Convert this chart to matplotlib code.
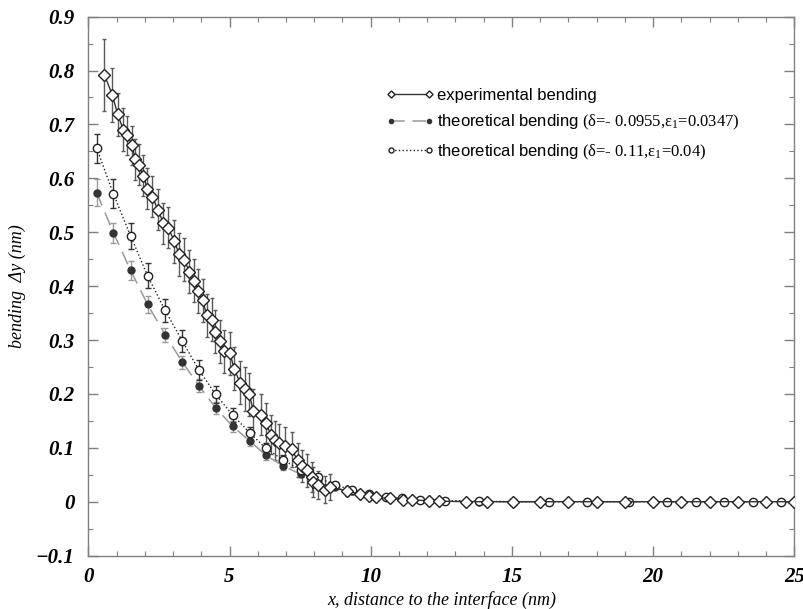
import matplotlib
matplotlib.use("Agg")
import matplotlib.pyplot as plt
from matplotlib.ticker import MultipleLocator

# experimental bending (diamonds)
exp_x = [0.57, 0.85, 1.04, 1.24, 1.38, 1.56, 1.65, 1.78, 1.95, 2.09, 2.27, 2.46,
         2.66, 2.83, 3.05, 3.22, 3.39, 3.58, 3.74, 3.90, 4.05, 4.19, 4.37, 4.49,
         4.66, 4.82, 5.02, 5.16, 5.37, 5.55, 5.70, 5.84, 6.10, 6.28, 6.47, 6.61,
         6.76, 6.97, 7.20, 7.41, 7.56, 7.73, 7.91, 7.97, 8.14, 8.38, 8.56,
         9.15, 9.62, 9.95, 10.20, 10.68, 11.13, 11.45, 12.05, 12.43, 13.37,
         14.13, 15.05, 16.0, 17.0, 18.0, 19.0, 20.0, 21.0, 22.0, 23.0, 24.0, 25.0]
exp_y = [0.792, 0.755, 0.719, 0.690, 0.680, 0.661, 0.635, 0.625, 0.605, 0.581,
         0.566, 0.542, 0.517, 0.508, 0.483, 0.459, 0.449, 0.427, 0.410, 0.391,
         0.374, 0.346, 0.338, 0.315, 0.298, 0.279, 0.275, 0.247, 0.221, 0.209,
         0.199, 0.169, 0.161, 0.146, 0.124, 0.114, 0.109, 0.104, 0.097, 0.077,
         0.066, 0.058, 0.046, 0.036, 0.031, 0.022, 0.027,
         0.020, 0.014, 0.010, 0.008, 0.006, 0.004, 0.003, 0.002, 0.001, 0.0,
         0.0, 0.0, 0.0, 0.0, 0.0, 0.0, 0.0, 0.0, 0.0, 0.0, 0.0, 0.0]
exp_err = [0.067, 0.050, 0.040, 0.040, 0.036, 0.036, 0.038, 0.038, 0.038, 0.038,
           0.038, 0.038, 0.038, 0.038, 0.040, 0.040, 0.040, 0.040, 0.040, 0.040,
           0.040, 0.040, 0.040, 0.040, 0.040, 0.040, 0.040, 0.040, 0.040, 0.040,
           0.040, 0.040, 0.038, 0.038, 0.036, 0.036, 0.035, 0.034, 0.033, 0.032,
           0.030, 0.030, 0.028, 0.028, 0.026, 0.025, 0.024,
           0.010, 0.006, 0.004, 0.0, 0.0, 0.0, 0.0, 0.0, 0.0, 0.0,
           0.0, 0.0, 0.0, 0.0, 0.0, 0.0, 0.0, 0.0, 0.0, 0.0, 0.0, 0.0]

# theoretical bending, both parameter sets share positions
th_x = [0.30, 0.89, 1.50, 2.10, 2.72, 3.33, 3.92, 4.51, 5.11, 5.73, 6.29, 6.91,
        7.52, 8.12, 8.74, 9.33, 9.95, 10.54, 11.10, 11.75, 12.63, 13.85, 15.05,
        16.30, 17.65, 19.16, 20.50, 21.52, 22.52, 23.53, 24.53]
th1_y = [0.573, 0.499, 0.429, 0.366, 0.310, 0.259, 0.215, 0.174, 0.140, 0.112,
         0.086, 0.066, 0.051, 0.038, 0.027, 0.019, 0.013, 0.008, 0.005, 0.003,
         0.001, 0.0, 0.0, 0.0, 0.0, 0.0, 0.0, 0.0, 0.0, 0.0, 0.0]
th1_err = [0.025, 0.019, 0.017, 0.015, 0.013, 0.012, 0.012, 0.011, 0.010, 0.009,
           0.008, 0.007, 0.006, 0.005, 0.004, 0.0, 0.0, 0.0, 0.0, 0.0,
           0.0, 0.0, 0.0, 0.0, 0.0, 0.0, 0.0, 0.0, 0.0, 0.0, 0.0]
th2_y = [0.656, 0.571, 0.493, 0.419, 0.355, 0.298, 0.244, 0.199, 0.161, 0.127,
         0.099, 0.077, 0.059, 0.045, 0.031, 0.022, 0.014, 0.009, 0.006, 0.004,
         0.002, 0.001, 0.0, 0.0, 0.0, 0.0, 0.0, 0.0, 0.0, 0.0, 0.0]
th2_err = [0.027, 0.027, 0.025, 0.023, 0.021, 0.020, 0.018, 0.016, 0.013, 0.012,
           0.010, 0.009, 0.008, 0.007, 0.005, 0.0, 0.0, 0.0, 0.0, 0.0,
           0.0, 0.0, 0.0, 0.0, 0.0, 0.0, 0.0, 0.0, 0.0, 0.0, 0.0]

xt = [0, 5, 10, 15, 20, 25]
yt = [-0.1, 0.0, 0.1, 0.2, 0.3, 0.4, 0.5, 0.6, 0.7, 0.8, 0.9]

plt.rcParams["mathtext.fontset"] = "custom"
plt.rcParams["mathtext.rm"] = "Liberation Serif"
plt.rcParams["mathtext.it"] = "Liberation Serif:italic"

SERIF = "Liberation Serif"
AXC = "#808080"

fig = plt.figure(figsize=(8.04, 6.09), dpi=100)
ax = fig.add_axes([0.1098, 0.0877, 0.8783, 0.885])

ax.errorbar(exp_x, exp_y, yerr=exp_err, fmt="none", ecolor="#5a5a5a",
            elinewidth=1.0, capsize=1.5, zorder=2)
ax.errorbar(th_x, th1_y, yerr=th1_err, fmt="none", ecolor="#9a9a9a",
            elinewidth=1.0, capsize=2.5, zorder=2)
ax.errorbar(th_x, th2_y, yerr=th2_err, fmt="none", ecolor="#333333",
            elinewidth=1.0, capsize=2.5, zorder=2)

ax.plot(exp_x, exp_y, "-", color="#333333", lw=1.0, marker="D", ms=6,
        mfc="white", mec="#222222", mew=1.0, zorder=4,
        label="experimental bending")
ax.plot(th_x, th1_y, color="#9a9a9a", lw=1.1, dashes=(9, 5), marker="o",
        ms=5, mfc="#333333", mec="#333333", zorder=3,
        label=r"theoretical bending $\mathrm{(\delta}\text{=- 0.0955,}"
              r"\mathrm{\varepsilon_1}\text{=0.0347)}$")
ax.plot(th_x, th2_y, ":", color="#222222", lw=1.0, marker="o", ms=6,
        mfc="white", mec="#222222", mew=1.0, zorder=3,
        label=r"theoretical bending $\mathrm{(\delta}\text{=- 0.11,}"
              r"\mathrm{\varepsilon_1}\text{=0.04)}$")

ax.set_xlim(0, 25)
ax.set_ylim(-0.1, 0.9)
ax.xaxis.set_minor_locator(MultipleLocator(1))
ax.yaxis.set_minor_locator(MultipleLocator(0.05))
ax.tick_params(which="both", direction="in", top=True, right=True, color=AXC)
ax.tick_params(which="major", length=7, width=1.0)
ax.tick_params(which="minor", length=3.5, width=0.8)
ax.tick_params(axis="y", which="major", pad=10)
ax.tick_params(axis="x", which="major", pad=8)
for s in ax.spines.values():
    s.set_color(AXC)
    s.set_linewidth(1.0)

ax.set_xticks(xt)
ax.set_xticklabels([str(v) for v in xt], fontfamily=SERIF, fontstyle="italic",
                   fontweight="bold", fontsize=15)
ax.set_yticks(yt)
ax.set_yticklabels(["\u22120.1", "0"] + [f"{v:.1f}" for v in yt[2:]],
                   fontfamily=SERIF, fontstyle="italic", fontweight="bold",
                   fontsize=15)

ax.set_xlabel("x, distance to the interface (nm)", fontfamily=SERIF,
              fontstyle="italic", fontsize=13, labelpad=3)
ax.set_ylabel("bending  \u0394y (nm)", fontfamily=SERIF, fontstyle="italic",
              fontsize=13, labelpad=7)

leg = ax.legend(loc="upper left", bbox_to_anchor=(0.40, 0.895), frameon=False,
                numpoints=2, markerscale=0.6, handlelength=2.9, handletextpad=0.2,
                labelspacing=0.6, prop={"family": "Liberation Sans", "size": 12})

fig.savefig("out.png", dpi=100, facecolor="white")
